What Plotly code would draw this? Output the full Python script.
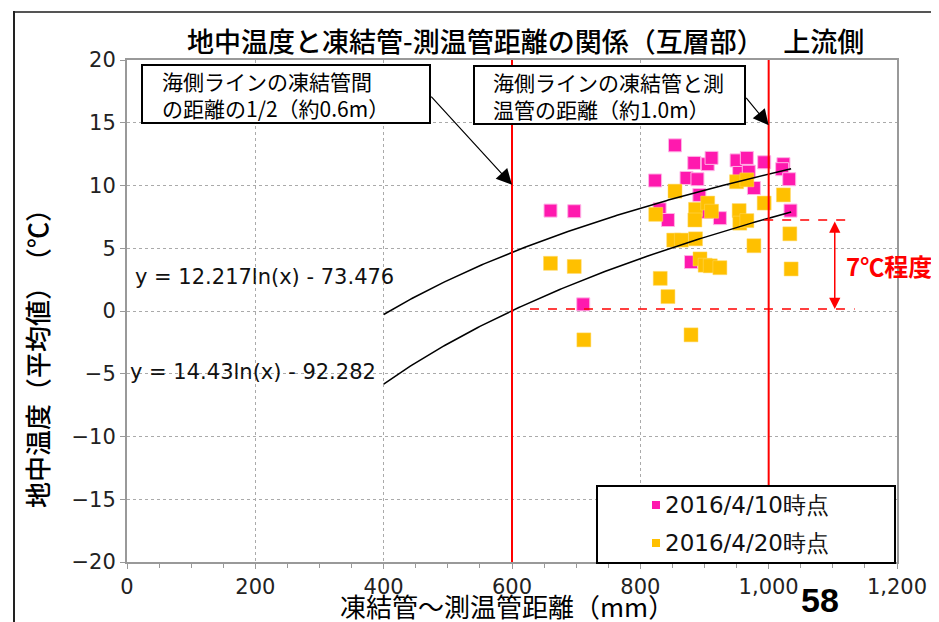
import numpy as np
import plotly.graph_objects as go

# ---------------- data ----------------
series_names = ["2016/4/10時点", "2016/4/20時点"]
series_colors = ["#FF19AE", "#FFC000"]

pink_x = [854, 884, 905, 911, 950, 966, 993, 1023, 1021, 1032, 823, 872, 889, 954,
          969, 977, 892, 660, 697, 830, 843, 903, 924, 1034, 879, 711]
pink_y = [13.2, 11.8, 11.7, 12.2, 12.0, 12.2, 11.85, 11.7, 11.3, 10.5, 10.4, 10.6, 10.5,
          11.0, 11.1, 9.8, 9.25, 8.0, 7.95, 8.1, 7.25, 7.9, 7.4, 8.0, 3.9, 0.53]

orange_x = [854, 950, 966, 1023, 993, 824, 886, 905, 911, 885, 954, 955, 966, 1033, 852,
            864, 886, 977, 660, 697, 893, 901, 909, 924, 1035, 831, 843, 712, 879]
orange_y = [9.55, 10.3, 10.45, 9.25, 8.6, 7.7, 8.1, 8.6, 7.95, 7.25, 8.0, 7.0, 7.2, 6.15,
            5.65, 5.65, 5.75, 5.2, 3.8, 3.55, 4.15, 3.65, 3.6, 3.45, 3.35, 2.6, 1.15, -2.3, -1.9]

# log trendlines shown on chart: y = a ln(x) + b
trend_a = [12.217, 14.43]
trend_b = [-73.476, -92.282]
trend_labels = ["y = 12.217ln(x) - 73.476", "y = 14.43ln(x) - 92.282"]
trend_x_range = [400, 1035]

ref_lines_x = [600, 1000]
diff_top, diff_bottom = 7.25, 0.15

x_ticks = [0, 200, 400, 600, 800, 1000, 1200]
y_ticks = [-20, -15, -10, -5, 0, 5, 10, 15, 20]

JP = "Noto Sans CJK JP"
NUM = "DejaVu Sans"

fig = go.Figure()

fig.add_trace(go.Scatter(x=pink_x, y=pink_y, mode="markers", name=series_names[0],
                         showlegend=False,
                         marker=dict(symbol="square", size=13, color=series_colors[0],
                                     line=dict(color="#FFB3E6", width=1))))
fig.add_trace(go.Scatter(x=orange_x, y=orange_y, mode="markers", name=series_names[1],
                         showlegend=False,
                         marker=dict(symbol="square", size=14, color=series_colors[1],
                                     line=dict(color="#FFD966", width=0.5))))

tx = np.linspace(trend_x_range[0], trend_x_range[1], 200)
for a, b in zip(trend_a, trend_b):
    fig.add_trace(go.Scatter(x=tx, y=a * np.log(tx) + b, mode="lines", showlegend=False,
                             line=dict(color="black", width=1.5), hoverinfo="skip"))

# page offset (browser body margin) and plot area geometry in window px
OFF = 8
WIN_W, WIN_H = 939, 622
W, H = WIN_W - OFF, WIN_H - OFF
L, R, T, B = 127, 897, 60, 562
def px(xp):
    return (xp - L) / (R - L)
def py(yp):
    return (B - yp) / (B - T)

shapes = []
for xv in ref_lines_x:
    shapes.append(dict(type="line", xref="x", yref="paper", x0=xv, x1=xv, y0=0, y1=1,
                       line=dict(color="#FF0000", width=2)))
shapes.append(dict(type="line", xref="x", yref="y", x0=993, x1=1123, y0=diff_top, y1=diff_top,
                   line=dict(color="#FF0000", width=1.5, dash="dash")))
shapes.append(dict(type="line", xref="x", yref="y", x0=628, x1=1134, y0=diff_bottom, y1=diff_bottom,
                   line=dict(color="#FF0000", width=1.5, dash="dash")))
# slide frame
shapes.append(dict(type="line", xref="paper", yref="paper", x0=px(14), x1=px(945), y0=py(12), y1=py(12),
                   line=dict(color="#555555", width=2)))
shapes.append(dict(type="line", xref="paper", yref="paper", x0=px(14), x1=px(14), y0=py(11), y1=py(630),
                   line=dict(color="#222222", width=2)))
# callout boxes
shapes.append(dict(type="rect", xref="paper", yref="paper", x0=px(142), x1=px(430), y0=py(123), y1=py(65),
                   line=dict(color="black", width=2), fillcolor="white", layer="above"))
shapes.append(dict(type="rect", xref="paper", yref="paper", x0=px(474), x1=px(745), y0=py(124), y1=py(66),
                   line=dict(color="black", width=2), fillcolor="white", layer="above"))
# legend box
shapes.append(dict(type="rect", xref="paper", yref="paper", x0=px(597), x1=px(895), y0=py(563), y1=py(486),
                   line=dict(color="black", width=2), fillcolor="white", layer="above"))
for i, yy in enumerate([505, 543]):
    shapes.append(dict(type="rect", xref="paper", yref="paper", x0=px(652), x1=px(660),
                       y0=py(yy + 4), y1=py(yy - 4), line=dict(width=0),
                       fillcolor=series_colors[i], layer="above"))

ann = []
# title
ann.append(dict(text="地中温度と凍結管-測温管距離の関係（互層部）　 上流側", xref="paper", yref="paper",
                x=px(525), y=py(40), showarrow=False,
                font=dict(family=JP, size=27, color="black", weight=500),
                xanchor="center", yanchor="middle"))
# axis titles
ann.append(dict(text="地中温度（平均値）　（℃）", xref="paper", yref="paper", x=px(37), y=py(352),
                textangle=-90, showarrow=False, font=dict(family=JP, size=26, color="black", weight=500),
                xanchor="center", yanchor="middle"))
ann.append(dict(text="凍結管～測温管距離（mm）", xref="paper", yref="paper", x=px(507), y=py(605),
                showarrow=False, font=dict(family=JP, size=26, color="black"),
                xanchor="center", yanchor="middle"))
# page number
ann.append(dict(text="<b>58</b>", xref="paper", yref="paper", x=px(820), y=py(600), showarrow=False,
                font=dict(family="Liberation Sans Narrow, Liberation Sans", size=34, color="black"),
                xanchor="center", yanchor="middle"))
# callout texts
ann.append(dict(text="海側ラインの凍結管間<br>の距離の1/2（約0.6m）", xref="paper", yref="paper",
                x=px(160), y=py(94), showarrow=False, align="left",
                font=dict(family=JP, size=21, color="black"), xanchor="left", yanchor="middle"))
ann.append(dict(text="海側ラインの凍結管と測<br>温管の距離（約1.0m）", xref="paper", yref="paper",
                x=px(491), y=py(95), showarrow=False, align="left",
                font=dict(family=JP, size=21, color="black"), xanchor="left", yanchor="middle"))
# callout arrows
ann.append(dict(text="", x=600, y=10.05, xref="x", yref="y", ax=472, ay=17.2, axref="x", ayref="y",
                showarrow=True, arrowhead=2, arrowsize=2.6, arrowwidth=1.2, arrowcolor="black"))
ann.append(dict(text="", x=1000, y=14.8, xref="x", yref="y", ax=963, ay=17.1, axref="x", ayref="y",
                showarrow=True, arrowhead=2, arrowsize=2.6, arrowwidth=1.2, arrowcolor="black"))
# trend equations
ann.append(dict(text=trend_labels[0], xref="paper", yref="paper", x=px(133), y=py(277), showarrow=False,
                font=dict(family=NUM, size=21, color="#111111"), xanchor="left", yanchor="middle"))
ann.append(dict(text=trend_labels[1], xref="paper", yref="paper", x=px(128), y=py(372), showarrow=False,
                font=dict(family=NUM, size=21, color="#111111"), xanchor="left", yanchor="middle"))
# 7℃ difference arrow
ann.append(dict(text="", x=1103, y=diff_bottom, xref="x", yref="y", ax=1103, ay=diff_top,
                axref="x", ayref="y", showarrow=True, arrowhead=2, startarrowhead=2,
                arrowside="end+start", arrowsize=1.5, startarrowsize=1.5, arrowwidth=1.5,
                arrowcolor="#FF0000"))
ann.append(dict(text="<b>7℃程度</b>", xref="paper", yref="paper", x=px(889), y=py(265),
                showarrow=False, font=dict(family=JP, size=24, color="#FF0000"),
                xanchor="center", yanchor="middle"))
# legend text
for i, yy in enumerate([505, 543]):
    ann.append(dict(text=series_names[i], xref="paper", yref="paper", x=px(663), y=py(yy),
                    showarrow=False, font=dict(family=NUM, size=23, color="#111111"),
                    xanchor="left", yanchor="middle"))

fig.update_layout(
    width=W, height=H, margin=dict(l=L - OFF, r=WIN_W - R, t=T - OFF, b=WIN_H - B),
    paper_bgcolor="white", plot_bgcolor="white",
    shapes=shapes, annotations=ann, showlegend=False,
    xaxis=dict(range=[0, 1200], tickvals=x_ticks, tickformat=",d",
               showgrid=True, gridcolor="#AAAAAA", griddash="dot", gridwidth=1,
               showline=True, linecolor="#999999", linewidth=2, mirror=True,
               ticks="outside", ticklen=5, tickcolor="#999999",
               minor=dict(dtick=50, ticks="outside", ticklen=4, tickcolor="#999999", showgrid=False),
               tickfont=dict(family=NUM, size=21, color="#222222"), zeroline=False),
    yaxis=dict(range=[-20, 20], tickvals=y_ticks,
               showgrid=True, gridcolor="#AAAAAA", griddash="dot", gridwidth=1,
               showline=True, linecolor="#999999", linewidth=2, mirror=True,
               ticks="outside", ticklen=5, tickcolor="#999999",
               tickfont=dict(family=NUM, size=21, color="#222222"), zeroline=False),
)

fig.write_html("out.html")
